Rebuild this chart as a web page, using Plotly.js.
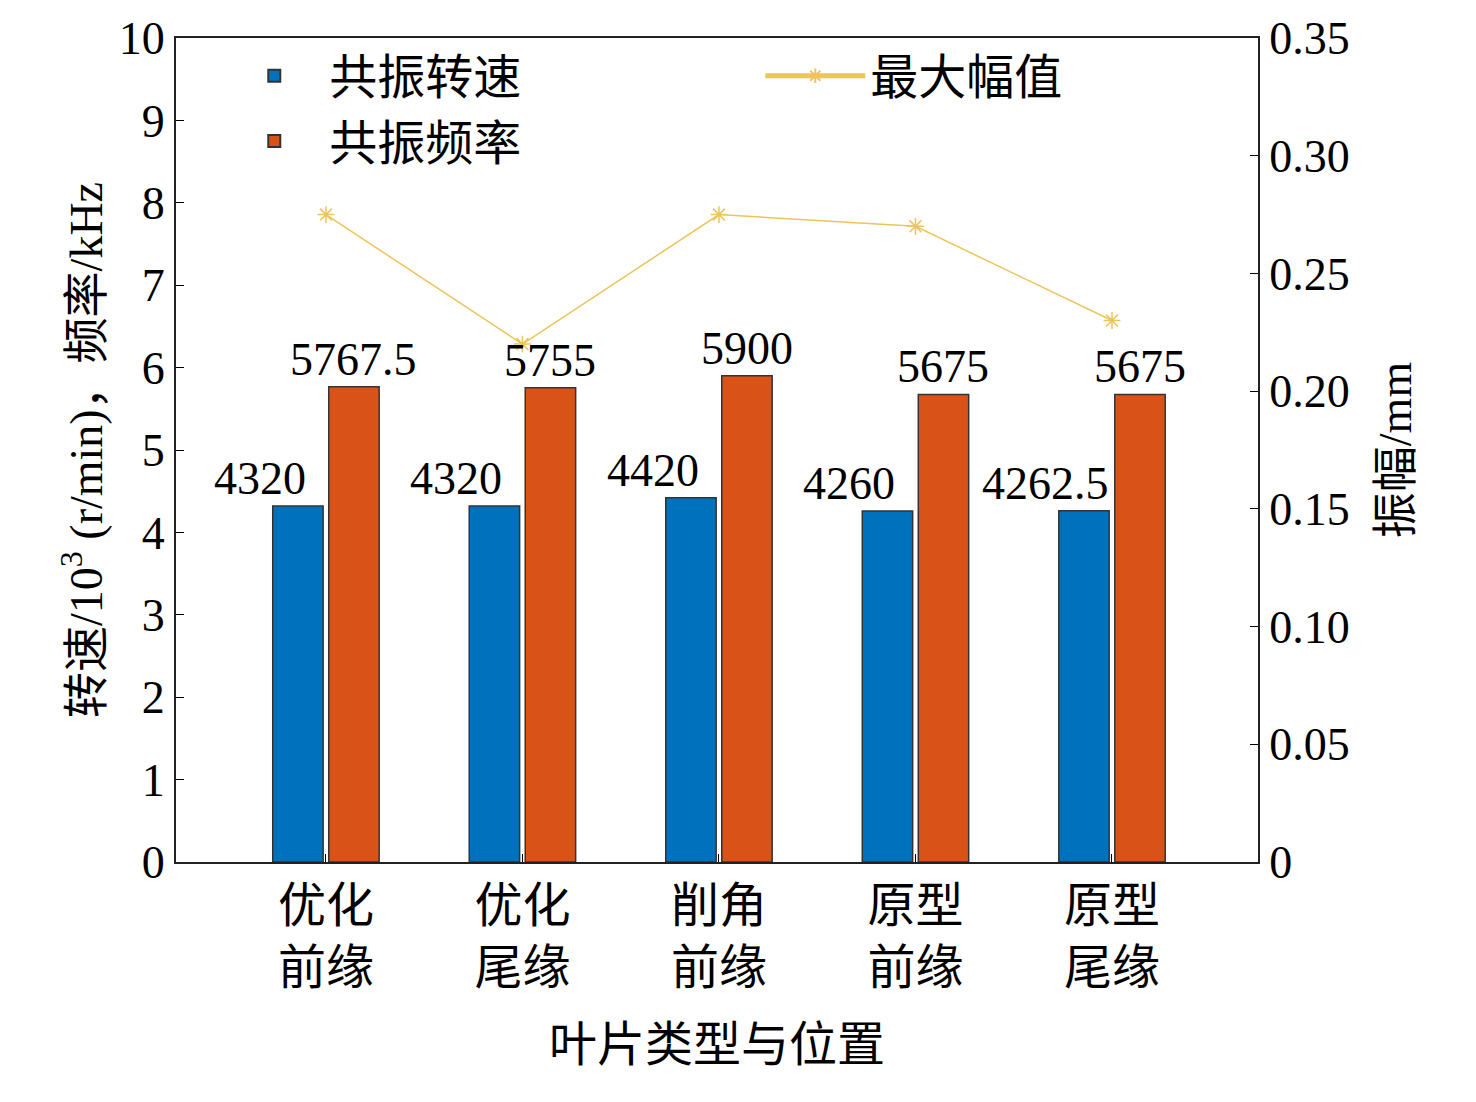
<!DOCTYPE html>
<html>
<head>
<meta charset="utf-8">
<script src="https://cdn.plot.ly/plotly-3.0.1.min.js"></script>
<style>body{margin:0;background:#fff}#chart{width:1476px;height:1102px}</style>
</head>
<body>
<div id="chart"></div>
<script>
/* ── data ── */
const categories = ["优化<br>前缘", "优化<br>尾缘", "削角<br>前缘", "原型<br>前缘", "原型<br>尾缘"];
const speed      = [4.32, 4.32, 4.42, 4.26, 4.2625];
const speedText  = ["4320", "4320", "4420", "4260", "4262.5"];
const freq       = [5.7675, 5.755, 5.9, 5.675, 5.675];
const freqText   = ["5767.5", "5755", "5900", "5675", "5675"];
const amplitude  = [0.275, 0.22, 0.275, 0.27, 0.23];
const ampTicks   = [0, 0.05, 0.1, 0.15, 0.2, 0.25, 0.3, 0.35];
const ampLabels  = ["0", "0.05", "0.10", "0.15", "0.20", "0.25", "0.30", "0.35"];

const idx = categories.map((_, i) => i);
const font = { family: "Liberation Serif, Noto Sans CJK SC, serif", color: "#000", size: 46 };
const catFont = { family: "Noto Sans CJK SC, serif", color: "#000", size: 48 };

const speedTrace = {
    x: idx, y: speed, type: "bar", name: "共振转速", legend: "legend",
    marker: { color: "#0072bd", line: { color: "#333", width: 1.5 } }
};
const freqTrace = {
    x: idx, y: freq, type: "bar", name: "共振频率", legend: "legend",
    marker: { color: "#d95319", line: { color: "#333", width: 1.5 } }
};
const ampTrace = {
    x: idx, y: amplitude, type: "scatter", mode: "lines+markers", name: "最大幅值",
    yaxis: "y2", legend: "legend2",
    line: { color: "#edc45a", width: 1.5 },
    marker: { symbol: "asterisk-open", size: 14, color: "#edc45a", line: { color: "#edc45a", width: 1.5 } }
};

const annotations = [];
idx.forEach(i => {
    annotations.push({ x: i, y: speed[i], text: speedText[i], showarrow: false,
        xshift: -66, yanchor: "bottom", font: font });
    annotations.push({ x: i, y: freq[i], text: freqText[i], showarrow: false,
        xshift: 28, yanchor: "bottom", font: font });
});

const legendBase = {
    yanchor: "top", xanchor: "left", bgcolor: "rgba(0,0,0,0)",
    font: catFont, itemwidth: 100, tracegroupgap: 0, itemsizing: "constant"
};

const layout = {
    width: 1476, height: 1102,
    margin: { l: 176, r: 218, t: 38, b: 240 },
    paper_bgcolor: "#fff", plot_bgcolor: "#fff",
    font: font,
    showlegend: true,
    bargap: 0.43, bargroupgap: 0.1,
    xaxis: {
        range: [-0.763, 4.743], tickvals: idx, ticktext: categories,
        tickfont: catFont,
        ticks: "inside", ticklen: 8, tickcolor: "#000",
        showline: true, linecolor: "#222", linewidth: 2, mirror: true,
        showgrid: false, zeroline: false,
        title: { text: "叶片类型与位置", font: catFont, standoff: 30 }
    },
    yaxis: {
        range: [0, 10], dtick: 1, ticks: "inside", ticklen: 8, tickcolor: "#000",
        showline: true, linecolor: "#222", linewidth: 2,
        showgrid: false, zeroline: false,
        title: { text: "转速/10<sup>3</sup> (r/min)，频率/kHz", font: font, standoff: 2 }
    },
    yaxis2: {
        overlaying: "y", side: "right", range: [0, 0.35],
        tickvals: ampTicks, ticktext: ampLabels,
        ticks: "inside", ticklen: 8, tickcolor: "#000",
        showline: true, linecolor: "#222", linewidth: 2,
        showgrid: false, zeroline: false,
        title: { text: "振幅/mm", font: font, standoff: 30 }
    },
    legend: { ...legendBase, x: 0.04, y: 1.0 },
    legend2: { ...legendBase, x: 0.54, y: 1.0 },
    annotations: annotations
};

Plotly.newPlot("chart", [speedTrace, freqTrace, ampTrace], layout, { staticPlot: true });
</script>
</body>
</html>
